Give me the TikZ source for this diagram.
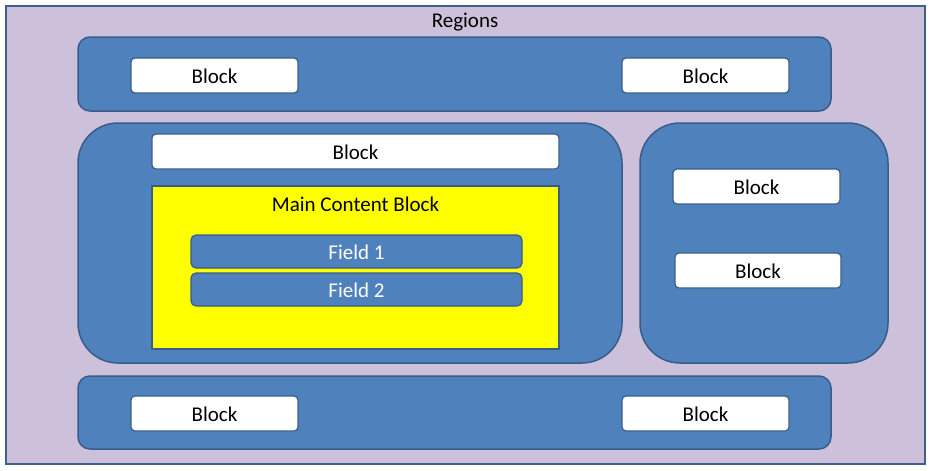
\documentclass[tikz,border=0pt]{standalone}
\usepackage{fontspec}
\setmainfont{Carlito}
\definecolor{lav}{HTML}{CCC0DA}
\definecolor{lavline}{HTML}{3F5F8F}
\definecolor{bluefill}{HTML}{4F81BD}
\definecolor{blueline}{HTML}{385D8A}
\definecolor{yell}{HTML}{FFFF00}
\tikzset{
  panel/.style={draw=blueline, fill=bluefill, line width=1.5pt},
  wblock/.style={draw=blueline, fill=white, line width=1.2pt, rounded corners=4pt},
  lbl/.style={font=\fontsize{21}{24}\selectfont, text=black},
}
\begin{document}
\begin{tikzpicture}[x=1pt,y=-1pt]
\useasboundingbox (0,0) rectangle (932,471);
% outer region
\draw[draw=lavline, fill=lav, line width=1.5pt] (6,6) rectangle (925,464);
\node[lbl] (regions) at (465,22) {Regions};
% top band
\draw[panel, rounded corners=12pt] (78,37) rectangle (831,111);
\draw[wblock] (131,58) rectangle (298,93);
\node[lbl] (t1) at (214.5,76) {Block};
\draw[wblock] (622,58) rectangle (789,93);
\node[lbl] (t2) at (705.5,76) {Block};
% main left panel
\draw[panel, rounded corners=40pt] (78,123) rectangle (622,363);
\draw[wblock] (152,134) rectangle (559,169);
\node[lbl] (m1) at (355.5,152) {Block};
\draw[draw=blueline, fill=yell, line width=1.5pt] (152,186) rectangle (559,349);
\node[lbl] (mc) at (355.5,204) {Main Content Block};
\draw[panel, line width=1.2pt, rounded corners=5pt] (191,235) rectangle (522,268);
\node[lbl, text=white] (f1) at (356.5,252) {Field 1};
\draw[panel, line width=1.2pt, rounded corners=5pt] (191,273) rectangle (522,306);
\node[lbl, text=white] (f2) at (356.5,290) {Field 2};
% right panel
\draw[panel, rounded corners=40pt] (640,123) rectangle (888,363);
\draw[wblock] (673,169) rectangle (840,204);
\node[lbl] (r1) at (756.5,187) {Block};
\draw[wblock] (675,253) rectangle (841,288);
\node[lbl] (r2) at (758,271) {Block};
% bottom band
\draw[panel, rounded corners=12pt] (78,376) rectangle (831,449);
\draw[wblock] (131,396) rectangle (298,431);
\node[lbl] (b1) at (214.5,414) {Block};
\draw[wblock] (622,396) rectangle (789,431);
\node[lbl] (b2) at (705.5,414) {Block};
\end{tikzpicture}
\end{document}
